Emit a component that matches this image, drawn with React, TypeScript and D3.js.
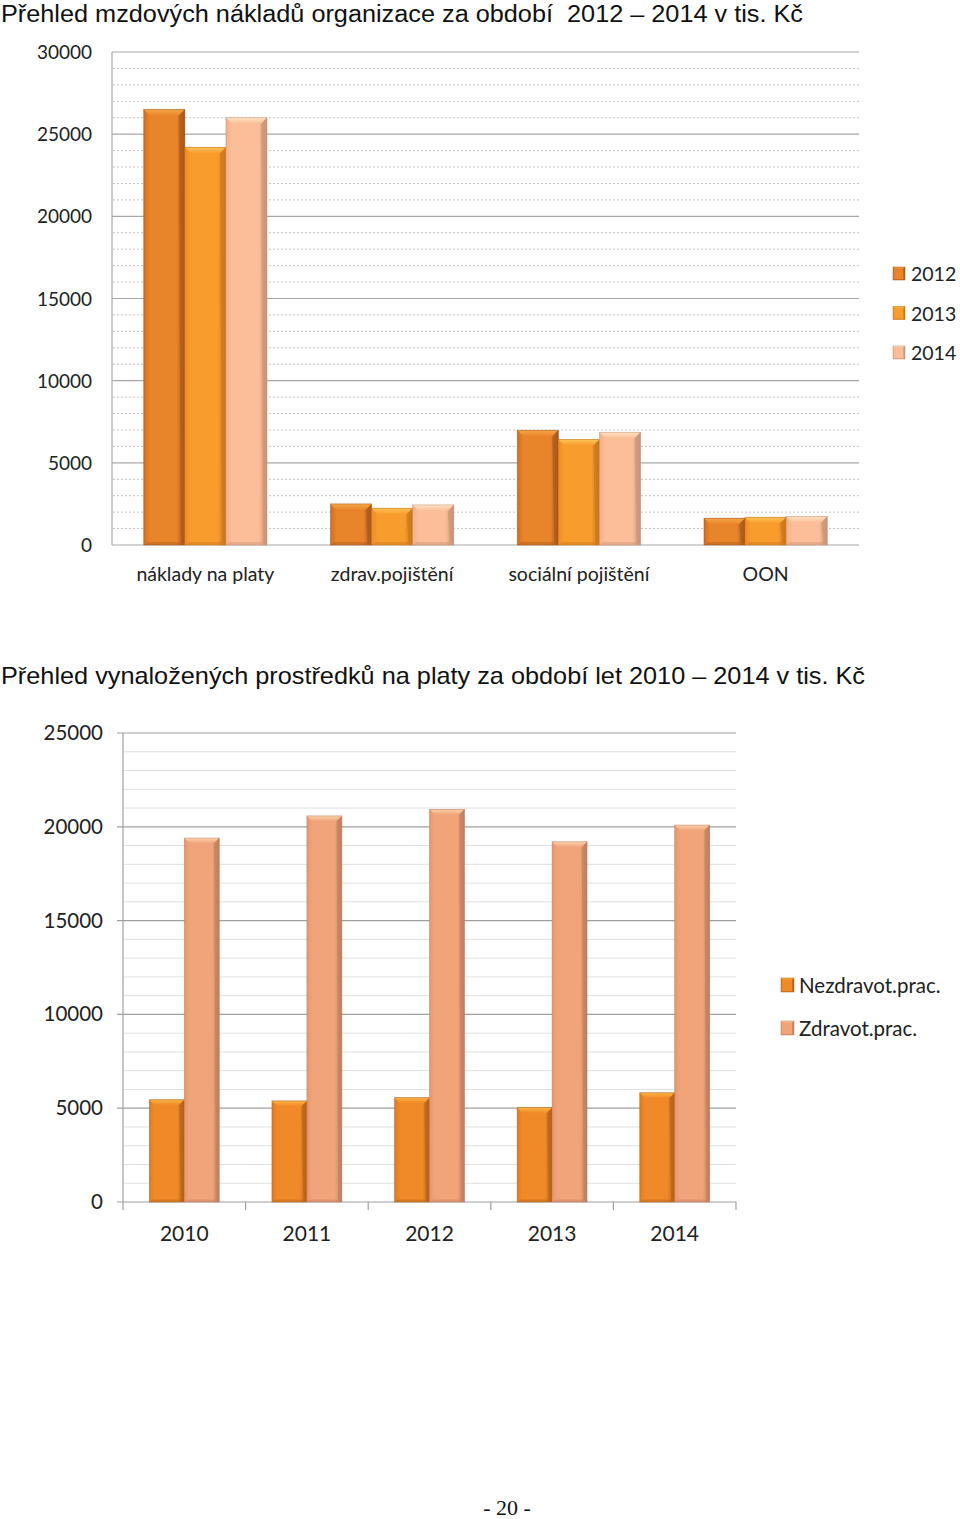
import React from "react";
import * as d3 from "d3";

const cats1 = ["náklady na platy", "zdrav.pojištění", "sociální pojištění", "OON"];
const series1 = ["2012", "2013", "2014"];
const vals2012 = [26500, 2500, 6980, 1630];
const vals2013 = [24200, 2240, 6420, 1690];
const vals2014 = [26000, 2440, 6860, 1730];
const yTicks1 = [0, 5000, 10000, 15000, 20000, 25000, 30000];

const cats2 = ["2010", "2011", "2012", "2013", "2014"];
const series2 = ["Nezdravot.prac.", "Zdravot.prac."];
const nezdrav = [5450, 5390, 5560, 5030, 5820];
const zdrav = [19400, 20580, 20930, 19200, 20090];
const yTicks2 = [0, 5000, 10000, 15000, 20000, 25000];

const title1 = "Přehled mzdových nákladů organizace za období  2012 – 2014 v tis. Kč";
const title2 = "Přehled vynaložených prostředků na platy za období let 2010 – 2014 v tis. Kč";

const colors1 = [
  { left: "#D26E1E", mid: "#E8852B", right: "#A9561A", top: "#F4A848" },
  { left: "#EE8E22", mid: "#F99C2E", right: "#C8741A", top: "#FCC458" },
  { left: "#F2B08A", mid: "#FBBE98", right: "#C99276", top: "#FEE2C4" },
];
const colors2 = [
  { left: "#E07A1E", mid: "#F08A28", right: "#B2601A", top: "#FBB444" },
  { left: "#E8966C", mid: "#F1A47A", right: "#BE7E5E", top: "#FCD2AE" },
];

const label = "'Lato', 'Open Sans', sans-serif";

function Grad({ id, c }: { id: string; c: any }) {
  return (
    <>
      <linearGradient id={id} x1="0" x2="1" y1="0" y2="0">
        <stop offset="0" stopColor={c.left} />
        <stop offset="0.15" stopColor={c.mid} />
        <stop offset="0.8" stopColor={c.mid} />
        <stop offset="1" stopColor={c.right} />
      </linearGradient>
      <linearGradient id={id + "t"} x1="0" x2="0" y1="0" y2="1">
        <stop offset="0" stopColor={c.top} />
        <stop offset="1" stopColor={c.mid} />
      </linearGradient>
    </>
  );
}

function Bar({ x, y, w, h, id, c, bevel = 6 }: any) {
  if (h <= 0) return null;
  const b = Math.min(bevel, w * 0.15, h / 2);
  return (
    <g>
      <rect x={x} y={y} width={w} height={h} fill={`url(#${id})`} />
      <path d={`M${x},${y} L${x + w},${y} L${x + w - b},${y + b} L${x + b},${y + b} Z`} fill={`url(#${id}t)`} />
      <path d={`M${x + w},${y} L${x + w},${y + h} L${x + w - b * 0.7},${y + h - b * 0.5} L${x + w - b},${y + b} Z`} fill={c.right} opacity={0.6} />
      <path d={`M${x},${y + h} L${x + w},${y + h} L${x + w - b * 0.7},${y + h - b * 0.5} L${x + b * 0.7},${y + h - b * 0.5} Z`} fill={c.right} opacity={0.4} />
      <rect x={x} y={y} width={w} height={h} fill="none" stroke={c.right} strokeWidth={0.7} strokeOpacity={0.7} />
    </g>
  );
}

export default function App() {
  const x1 = d3.scaleBand().domain(cats1).range([112, 859]).paddingInner(0.34).paddingOuter(0.17);
  const xs1 = d3.scaleBand().domain(series1).range([0, x1.bandwidth()]);
  const y1 = d3.scaleLinear().domain([0, 30000]).range([545, 52]);
  const minor1 = d3.range(0, 30001, 1000).filter((v) => v % 5000 !== 0);
  const data1 = [vals2012, vals2013, vals2014];

  const x2 = d3.scaleBand().domain(cats2).range([123, 736]).paddingInner(0.43).paddingOuter(0.215);
  const xs2 = d3.scaleBand().domain(series2).range([0, x2.bandwidth()]);
  const y2 = d3.scaleLinear().domain([0, 25000]).range([1202, 733]);
  const minor2 = d3.range(0, 25001, 1000).filter((v) => v % 5000 !== 0);
  const data2 = [nezdrav, zdrav];
  const bounds2 = d3.range(0, cats2.length + 1).map((i) => 123 + (i * (736 - 123)) / cats2.length);

  return (
    <svg width={960} height={1519} style={{ position: "absolute", left: 0, top: 0, background: "#fff" }}>
      <defs>
        {colors1.map((c, i) => (
          <Grad key={"g1" + i} id={"g1" + i} c={c} />
        ))}
        {colors2.map((c, i) => (
          <Grad key={"g2" + i} id={"g2" + i} c={c} />
        ))}
      </defs>
      <rect x={0} y={0} width={960} height={1519} fill="#fff" />

      <text x={1} y={22} fontFamily="'Liberation Sans', Arial, sans-serif" fontSize={23} textLength={802} lengthAdjust="spacingAndGlyphs" fill="#111" style={{ whiteSpace: "pre" }}>
        {title1}
      </text>

      {minor1.map((v) => (
        <line key={"m1" + v} x1={113} x2={859} y1={y1(v)} y2={y1(v)} stroke="#C4C4C4" strokeWidth={1} strokeDasharray="2,2" />
      ))}
      {yTicks1.map((v) => (
        <line key={"M1" + v} x1={112} x2={859} y1={y1(v)} y2={y1(v)} stroke="#A8A8A8" strokeWidth={1.2} />
      ))}
      <line x1={112} x2={112} y1={52} y2={545} stroke="#A8A8A8" strokeWidth={1.2} />
      {yTicks1.map((v) => (
        <text key={"yl1" + v} x={92} y={y1(v) + 7} textAnchor="end" fontFamily={label} fontSize={19} fill="#222">
          {v}
        </text>
      ))}
      {cats1.map((c, ci) =>
        series1.map((s, si) => {
          const v = data1[si][ci];
          const x = (x1(c) as number) + (xs1(s) as number);
          return <Bar key={c + s} x={x} y={y1(v)} w={xs1.bandwidth()} h={545 - y1(v)} id={"g1" + si} c={colors1[si]} />;
        })
      )}
      {cats1.map((c) => (
        <text key={"xl1" + c} x={(x1(c) as number) + x1.bandwidth() / 2} y={581} textAnchor="middle" fontFamily={label} fontSize={19.5} fill="#222">
          {c}
        </text>
      ))}
      {series1.map((s, i) => (
        <g key={"lg1" + s} transform={`translate(893, ${267 + i * 39.5})`}>
          <Bar x={0} y={0} w={12} h={13} id={"g1" + i} c={colors1[i]} bevel={3} />
          <text x={18} y={14} fontFamily={label} fontSize={19.5} fill="#222">
            {s}
          </text>
        </g>
      ))}

      <text x={1} y={684} fontFamily="'Liberation Sans Narrow', 'Liberation Sans', Arial, sans-serif" fontSize={24} textLength={864} lengthAdjust="spacingAndGlyphs" fill="#111">
        {title2}
      </text>

      {minor2.map((v) => (
        <line key={"m2" + v} x1={124} x2={736} y1={y2(v)} y2={y2(v)} stroke="#E0E0E0" strokeWidth={1} />
      ))}
      {yTicks2.map((v) => (
        <line key={"M2" + v} x1={117} x2={736} y1={y2(v)} y2={y2(v)} stroke="#A0A0A0" strokeWidth={1.2} />
      ))}
      <line x1={123} x2={123} y1={733} y2={1202} stroke="#A0A0A0" strokeWidth={1.2} />
      {bounds2.map((b, i) => (
        <line key={"tb" + i} x1={b} x2={b} y1={1202} y2={1210} stroke="#A0A0A0" strokeWidth={1.2} />
      ))}
      {yTicks2.map((v) => (
        <text key={"yl2" + v} x={103} y={y2(v) + 7} textAnchor="end" fontFamily={label} fontSize={20.5} fill="#222">
          {v}
        </text>
      ))}
      {cats2.map((c, ci) =>
        series2.map((s, si) => {
          const v = data2[si][ci];
          const x = (x2(c) as number) + (xs2(s) as number);
          return <Bar key={c + s} x={x} y={y2(v)} w={xs2.bandwidth()} h={1202 - y2(v)} id={"g2" + si} c={colors2[si]} />;
        })
      )}
      {cats2.map((c) => (
        <text key={"xl2" + c} x={(x2(c) as number) + x2.bandwidth() / 2} y={1241} textAnchor="middle" fontFamily={label} fontSize={21} fill="#222">
          {c}
        </text>
      ))}
      {series2.map((s, i) => (
        <g key={"lg2" + s} transform={`translate(781, ${978 + i * 43})`}>
          <Bar x={0} y={0} w={13} h={14} id={"g2" + i} c={colors2[i]} bevel={3} />
          <text x={18} y={15} fontFamily={label} fontSize={20.5} fill="#222">
            {s}
          </text>
        </g>
      ))}

      <text x={507} y={1515} textAnchor="middle" fontFamily="'Liberation Serif', 'Times New Roman', serif" fontSize={22} fill="#111">
        - 20 -
      </text>
    </svg>
  );
}
